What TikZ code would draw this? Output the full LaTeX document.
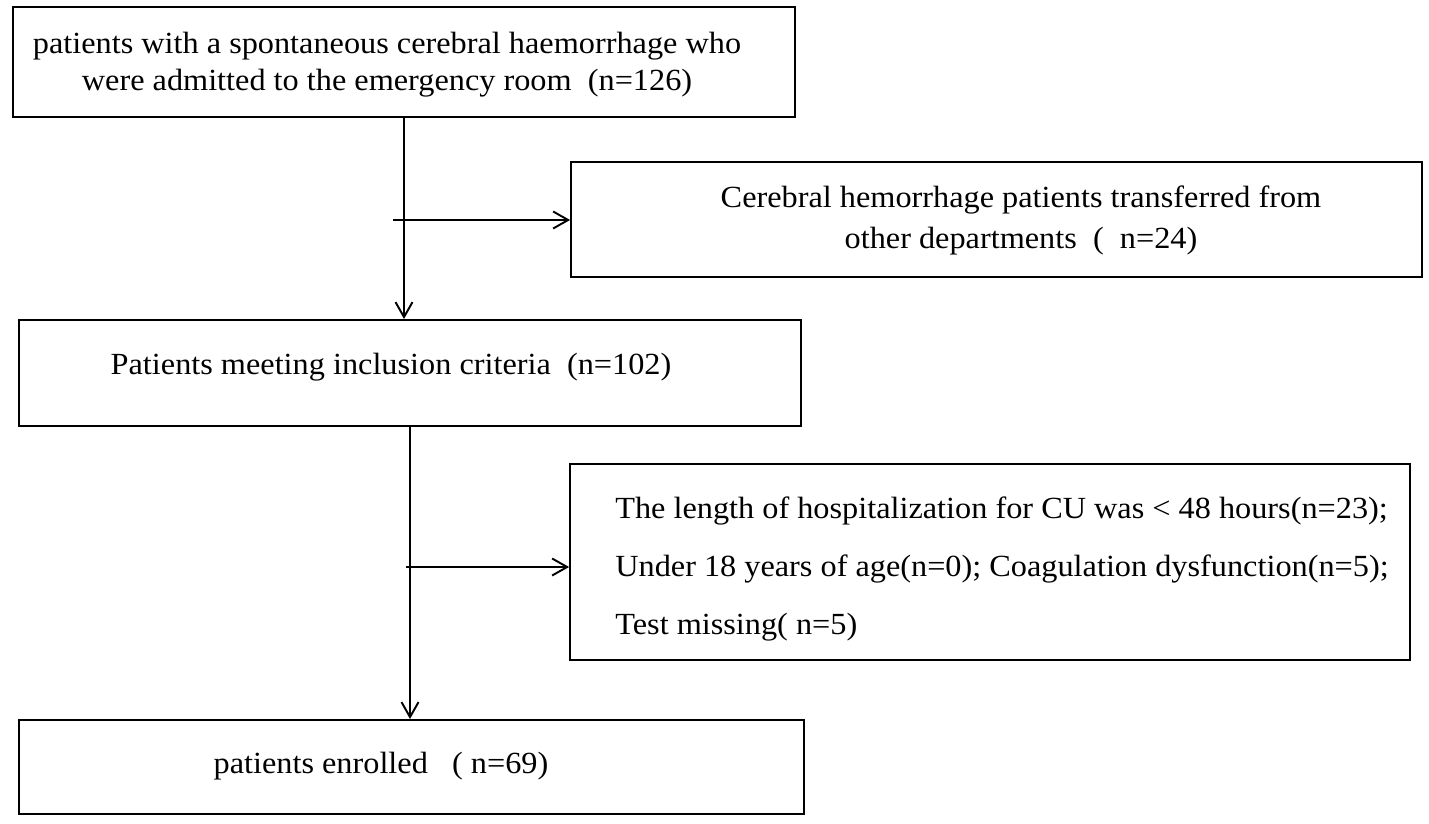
\documentclass[tikz,border=0pt]{standalone}
\usepackage{fontspec}
\setmainfont{Liberation Serif}[FakeStretch=1.05]
\usetikzlibrary{arrows.meta}

\begin{document}
\begin{tikzpicture}[x=0.02cm,y=-0.02cm,
  box/.style={draw,line width=1.1pt,inner sep=0pt},
  txt/.style={inner sep=0pt,font=\fontsize{17.5}{21}\selectfont},
  arr/.style={line width=1.1pt,-{Straight Barb[length=0.3cm,width=0.34cm,line width=1.1pt]}}]
\useasboundingbox (0,0) rectangle (1429,824);
\node[box,minimum width=15.64cm,minimum height=2.2cm] (start) at (404,62) {};
\node[txt,align=center] (startt) at (387,65) {patients with a spontaneous cerebral haemorrhage who\\were admitted to the emergency room\ \ (n=126)};
\node[box,minimum width=17.02cm,minimum height=2.3cm] (transf) at (996.5,219.5) {};
\node[txt,align=center,font=\fontsize{17.5}{23}\selectfont] (transft) at (1021,220.5) {Cerebral hemorrhage patients transferred from\\other departments\ \ ( \ n=24)};
\node[box,minimum width=15.64cm,minimum height=2.12cm] (incl) at (410,373) {};
\node[txt] (inclt) at (391,367) {Patients meeting inclusion criteria\ \ (n=102)};
\node[box,minimum width=16.8cm,minimum height=3.92cm] (excl) at (990,562) {};
\node[txt,anchor=west,align=left,font=\fontsize{17.5}{33}\selectfont] (exclt) at (615,569) {The length of hospitalization for CU was < 48 hours(n=23);\\Under 18 years of age(n=0); Coagulation dysfunction(n=5);\\Test missing( n=5)};
\node[box,minimum width=15.7cm,minimum height=1.88cm] (enrol) at (411.5,767) {};
\node[txt] (enrolt) at (381,766) {patients enrolled\ \ \ ( n=69)};

\coordinate (b1) at (393,220);
\coordinate (b2) at (406,567);
\draw[arr] (start.south) -- (start.south |- incl.north);
\draw[arr] (b1) -- (b1 -| transf.west);
\draw[arr] (incl.south) -- (incl.south |- enrol.north);
\draw[arr] (b2) -- (b2 -| excl.west);
\end{tikzpicture}
\end{document}
